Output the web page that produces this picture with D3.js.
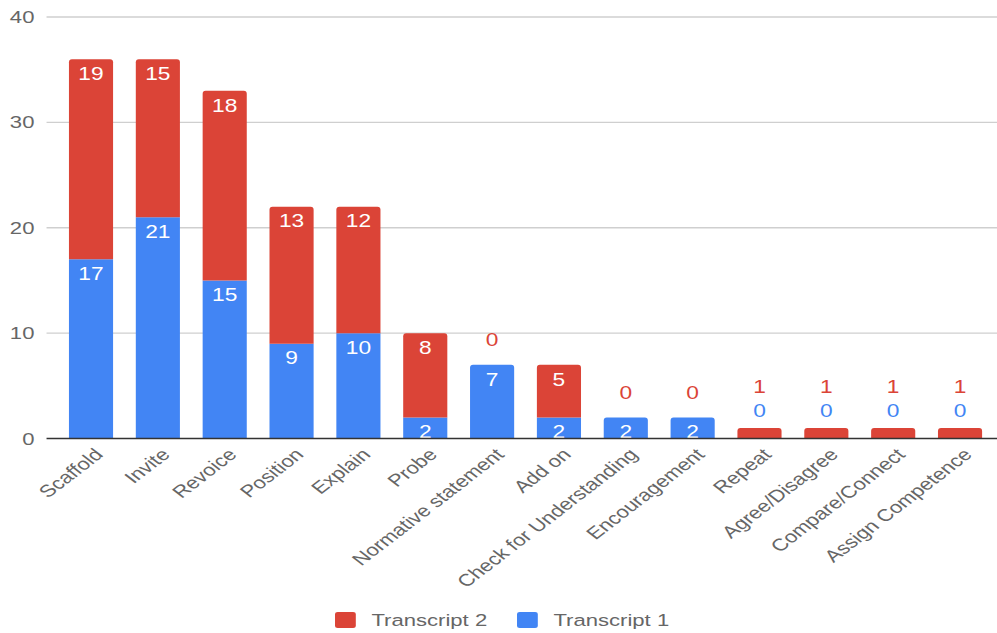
<!DOCTYPE html>
<html>
<head>
<meta charset="utf-8">
<script src="https://cdn.jsdelivr.net/npm/d3@7"></script>
<style>
  html, body { margin: 0; padding: 0; background: #fff; }
  svg { display: block; }
  text { font-family: "Liberation Sans", Arial, sans-serif; }
</style>
</head>
<body>
<div id="chart"></div>
<script>
const categories = ["Scaffold", "Invite", "Revoice", "Position", "Explain", "Probe",
  "Normative statement", "Add on", "Check for Understanding", "Encouragement",
  "Repeat", "Agree/Disagree", "Compare/Connect", "Assign Competence"];
const transcript1 = [17, 21, 15, 9, 10, 2, 7, 2, 2, 2, 0, 0, 0, 0];
const transcript2 = [19, 15, 18, 13, 12, 8, 0, 5, 0, 0, 1, 1, 1, 1];
const yTicks = [0, 10, 20, 30, 40];
const seriesNames = ["Transcript 1", "Transcript 2"];
const seriesColors = ["#4285F4", "#DB4437"];

const W = 997, H = 633;
const SX = 1.3;               // horizontal stretch of the reference picture
const W0 = W / SX;

const svg = d3.select("#chart").append("svg")
  .attr("width", W).attr("height", H)
  .attr("viewBox", `0 0 ${W0} ${H}`)
  .attr("preserveAspectRatio", "none");

const x = d3.scaleBand().domain(categories).range([44.3, 764.2]).paddingInner(0.34).paddingOuter(0.17);
const y = d3.scaleLinear().domain([0, 40]).range([438.5, 17]);

// gridlines
svg.append("g").selectAll("line").data(yTicks.filter(d => d > 0)).join("line")
  .attr("x1", 35.8).attr("x2", W0)
  .attr("y1", d => y(d)).attr("y2", d => y(d))
  .attr("stroke", "#cfcfcf").attr("stroke-width", 1.3);

// y tick labels
svg.append("g").selectAll("text").data(yTicks).join("text")
  .attr("x", 26.5).attr("y", d => y(d)).attr("dy", "0.36em")
  .attr("text-anchor", "end").attr("font-size", 17).attr("fill", "#666")
  .text(d => d);

// stacked data
const rows = categories.map((c, i) => ({ cat: c, t1: transcript1[i], t2: transcript2[i] }));
const stack = d3.stack().keys(["t1", "t2"])(rows);

function segPath(x0, w, yTop, yBot, rounded) {
  const r = rounded ? Math.min(3, (yBot - yTop)) : 0;
  const rx = r / SX;
  return `M${x0},${yBot} L${x0},${yTop + r} Q${x0},${yTop} ${x0 + rx},${yTop} L${x0 + w - rx},${yTop} Q${x0 + w},${yTop} ${x0 + w},${yTop + r} L${x0 + w},${yBot} Z`;
}

const bars = svg.append("g");
stack.forEach((layer, si) => {
  layer.forEach((d, i) => {
    if (d[1] - d[0] <= 0) return;
    const isTop = si === stack.length - 1 || stack.slice(si + 1).every(l => l[i][1] - l[i][0] === 0);
    bars.append("path")
      .attr("d", segPath(x(categories[i]), x.bandwidth(), y(d[1]), y(d[0]), isTop))
      .attr("fill", seriesColors[si]);
  });
});

// data labels
const labels = svg.append("g").attr("font-size", 17.5);
categories.forEach((c, i) => {
  const cx = x(c) + x.bandwidth() / 2;
  const outside = [];
  let stackTop = y(0);
  stack.forEach((layer, si) => {
    const d = layer[i];
    const v = d[1] - d[0];
    const hPix = y(d[0]) - y(d[1]);
    if (v > 0) stackTop = Math.min(stackTop, y(d[1]));
    if (hPix >= 19) {
      labels.append("text").attr("x", cx).attr("y", y(d[1]) + 14.5).attr("dy", "0.36em")
        .attr("text-anchor", "middle").attr("fill", "#fff").text(v);
    } else {
      outside.push({ v, si });
    }
  });
  outside.forEach((o, k) => {
    const off = outside.length === 1 ? 25 : 17 + 24 * k;
    labels.append("text").attr("x", cx).attr("y", stackTop - off).attr("dy", "0.36em")
      .attr("text-anchor", "middle").attr("fill", seriesColors[o.si]).text(o.v);
  });
});

// baseline
svg.append("line").attr("x1", 35.8).attr("x2", W0).attr("y1", y(0)).attr("y2", y(0))
  .attr("stroke", "#333").attr("stroke-width", 1.6);

// x labels
svg.append("g").selectAll("text").data(categories).join("text")
  .attr("transform", d => `translate(${x(d) + x.bandwidth() / 2 + 1.5},${447}) rotate(-45)`)
  .attr("dy", "0.72em").attr("text-anchor", "end")
  .attr("font-size", 17).attr("fill", "#666")
  .text(d => d);

// legend
const legendItems = [
  { name: seriesNames[1], color: seriesColors[1], x: 257.7 },
  { name: seriesNames[0], color: seriesColors[0], x: 397.7 }
];
const lg = svg.append("g");
legendItems.forEach(it => {
  lg.append("rect").attr("x", it.x).attr("y", 612).attr("width", 16).attr("height", 16)
    .attr("rx", 2).attr("fill", it.color);
  lg.append("text").attr("x", it.x + 28).attr("y", 620).attr("dy", "0.36em")
    .attr("font-size", 17).attr("fill", "#666").text(it.name);
});
</script>
</body>
</html>
